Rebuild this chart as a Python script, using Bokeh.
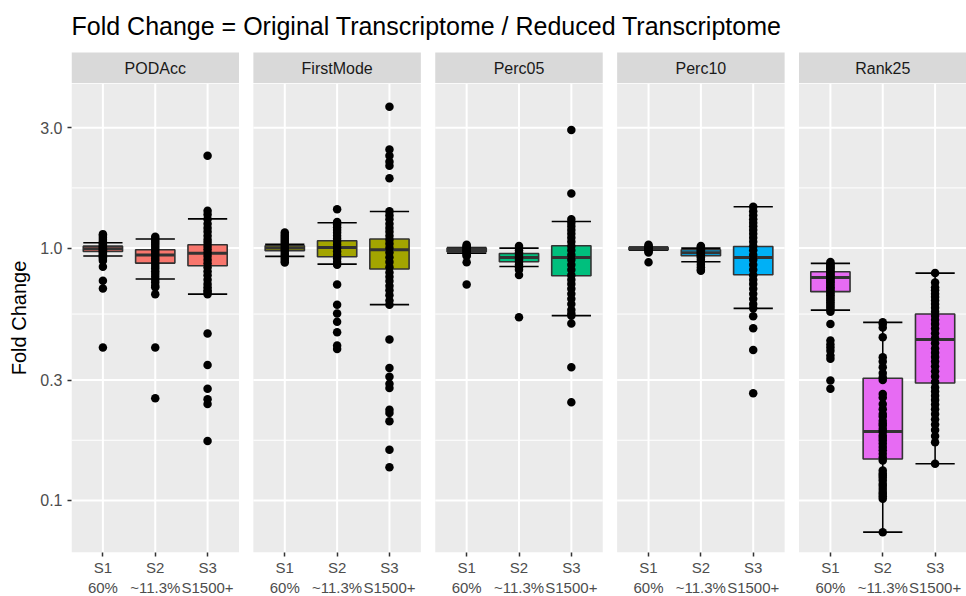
import numpy as np
from bokeh.plotting import figure
from bokeh.layouts import column
from bokeh.models import Range1d, FixedTicker, CustomJSTickFormatter
from bokeh.embed import file_html
from bokeh.resources import INLINE
from bokeh.core.properties import value

# ---------------- data ----------------
title = "Fold Change = Original Transcriptome / Reduced Transcriptome"
panels = ["PODAcc", "FirstMode", "Perc05", "Perc10", "Rank25"]
fills = ["#F8766D", "#A3A500", "#00BF7D", "#00B0F6", "#E76BF3"]
groups = ["S1\n60%", "S2\n~11.3%", "S3\nS1500+"]
y_ticks = [0.1, 0.3, 1.0, 3.0]

# box statistics, ordered panel by panel (S1, S2, S3)
box_lo  = [0.930, 0.754, 0.657,  0.927, 0.864, 0.597,  0.955, 0.846, 0.540,  0.982, 0.883, 0.577,  0.568, 0.0749, 0.1397]
box_q1  = [0.970, 0.872, 0.851,  0.976, 0.924, 0.826,  0.967, 0.883, 0.777,  0.985, 0.933, 0.784,  0.672, 0.146, 0.292]
box_med = [0.995, 0.938, 0.955,  1.000, 1.006, 0.985,  0.985, 0.918, 0.918,  0.997, 0.958, 0.918,  0.765, 0.1875, 0.434]
box_q3  = [1.018, 0.985, 1.031,  1.021, 1.069, 1.086,  1.000, 0.952, 1.021,  1.006, 0.985, 1.015,  0.806, 0.305, 0.548]
box_hi  = [1.050, 1.086, 1.306,  1.035, 1.260, 1.397,  1.006, 1.000, 1.275,  1.009, 1.000, 1.458,  0.870, 0.508, 0.796]

podacc_s1 = [1.136, 1.12, 1.10, 1.08, 1.06, 1.05, 1.04, 1.03, 1.02, 1.01, 1.0, 0.99, 0.98, 0.97, 0.96,
             0.95, 0.94, 0.93, 0.92, 0.905, 0.891, 0.844, 0.743, 0.692, 0.404]
podacc_s2 = [1.11, 1.09, 1.07, 1.05, 1.03, 1.01, 0.99, 0.97, 0.95, 0.93, 0.91, 0.89, 0.87, 0.85, 0.83,
             0.81, 0.79, 0.77, 0.75, 0.73, 0.71, 0.70, 0.657, 0.404, 0.254]
podacc_s3 = [2.32, 1.405, 1.36, 1.30, 1.25, 1.20, 1.16, 1.12, 1.08, 1.05, 1.02, 0.99, 0.96, 0.93, 0.90,
             0.87, 0.84, 0.81, 0.78, 0.75, 0.72, 0.70, 0.68, 0.67, 0.657, 0.459, 0.344, 0.277, 0.252,
             0.241, 0.172]
firstmode_s1 = [1.153, 1.13, 1.11, 1.09, 1.07, 1.05, 1.03, 1.01, 0.99, 0.97, 0.95, 0.93, 0.91, 0.89, 0.877]
firstmode_s2 = [1.427, 1.27, 1.24, 1.21, 1.18, 1.15, 1.12, 1.09, 1.06, 1.03, 1.0, 0.97, 0.94, 0.91, 0.88,
                0.86, 0.718, 0.597, 0.551, 0.511, 0.464, 0.411, 0.398]
firstmode_s3 = [3.63, 2.46, 2.32, 2.20, 2.12, 1.89, 1.40, 1.35, 1.30, 1.25, 1.20, 1.16, 1.12, 1.08, 1.04,
                1.0, 0.96, 0.92, 0.88, 0.84, 0.80, 0.77, 0.74, 0.71, 0.68, 0.65, 0.62, 0.597, 0.434,
                0.335, 0.309, 0.290, 0.279, 0.229, 0.222, 0.206, 0.159, 0.1355]
perc05_s1 = [1.03, 1.02, 1.01, 1.0, 0.99, 0.98, 0.97, 0.96, 0.95, 0.94, 0.93, 0.878, 0.718]
perc05_s2 = [1.02, 1.0, 0.98, 0.96, 0.94, 0.92, 0.90, 0.88, 0.86, 0.84, 0.82, 0.782, 0.532]
perc05_s3 = [2.94, 1.645, 1.30, 1.26, 1.22, 1.18, 1.14, 1.10, 1.06, 1.02, 0.98, 0.94, 0.90, 0.86, 0.82,
             0.78, 0.75, 0.72, 0.69, 0.66, 0.63, 0.60, 0.57, 0.55, 0.54, 0.503, 0.337, 0.245]
perc10_s1 = [1.03, 1.02, 1.01, 1.0, 0.99, 0.98, 0.97, 0.96, 0.878]
perc10_s2 = [1.02, 1.01, 1.0, 0.99, 0.98, 0.97, 0.96, 0.95, 0.94, 0.93, 0.92, 0.90, 0.88, 0.86, 0.84,
             0.82, 0.813]
perc10_s3 = [1.458, 1.40, 1.35, 1.30, 1.26, 1.22, 1.18, 1.14, 1.10, 1.06, 1.02, 0.98, 0.94, 0.90, 0.86,
             0.82, 0.78, 0.75, 0.72, 0.69, 0.66, 0.63, 0.60, 0.577, 0.537, 0.481, 0.395, 0.266]
rank25_s1 = [0.88, 0.87, 0.86, 0.85, 0.84, 0.83, 0.82, 0.81, 0.80, 0.79, 0.78, 0.77, 0.76, 0.75, 0.74,
             0.73, 0.72, 0.71, 0.70, 0.69, 0.68, 0.67, 0.66, 0.65, 0.64, 0.63, 0.62, 0.61, 0.60, 0.59,
             0.58, 0.57, 0.56, 0.500, 0.430, 0.415, 0.404, 0.392, 0.375, 0.364, 0.299, 0.277]
rank25_s2 = [0.508, 0.50, 0.485, 0.443, 0.369, 0.355, 0.337, 0.32, 0.308, 0.30, 0.264, 0.256,
             0.241, 0.23, 0.220, 0.215, 0.207, 0.202, 0.198, 0.192, 0.187, 0.181,
             0.177, 0.173, 0.168, 0.163, 0.158, 0.153, 0.148, 0.144, 0.1315, 0.128,
             0.1256, 0.123, 0.120, 0.1164, 0.114, 0.111, 0.108, 0.106, 0.104, 0.1016, 0.0749]
rank25_s3 = [0.796, 0.73, 0.70, 0.68, 0.66, 0.64, 0.62, 0.60, 0.58, 0.56, 0.54, 0.52, 0.50, 0.48,
             0.46, 0.44, 0.42, 0.40, 0.385, 0.37, 0.355, 0.34, 0.325, 0.31, 0.295, 0.28, 0.27, 0.26,
             0.25, 0.24, 0.23, 0.22, 0.21, 0.20, 0.19, 0.18, 0.17, 0.1397]

points = [
    [podacc_s1, podacc_s2, podacc_s3],
    [firstmode_s1, firstmode_s2, firstmode_s3],
    [perc05_s1, perc05_s2, perc05_s3],
    [perc10_s1, perc10_s2, perc10_s3],
    [rank25_s1, rank25_s2, rank25_s3],
]

# ---------------- layout constants ----------------
FONT = "Liberation Sans"
EXPAND = 0.6          # ggplot discrete expansion
PANEL_W = 2 + 2 * EXPAND
GAP = 0.275
STRIDE = PANEL_W + GAP
BOX_W = 0.75
Y_MIN, Y_MAX = 0.0622, 4.49
FRAME_W, FRAME_H = 895, 469
LEFT = 71

x_lo = 1 - EXPAND
x_hi = (len(panels) - 1) * STRIDE + 3 + EXPAND
xr = Range1d(x_lo, x_hi)

panel_left = [i * STRIDE + 1 - EXPAND for i in range(len(panels))]
panel_right = [l + PANEL_W for l in panel_left]
cat_x = [i * STRIDE + j + 1 for i in range(len(panels)) for j in range(len(groups))]
cat_lbl = [groups[j] for i in range(len(panels)) for j in range(len(groups))]

# ---------------- strip / title figure ----------------
STRIP_H = 31
TOP_H = 83
s = figure(frame_width=FRAME_W, frame_height=TOP_H, x_range=xr, y_range=Range1d(0, TOP_H),
           output_backend="svg", toolbar_location=None, x_axis_location=None,
           y_axis_location=None, min_border_left=LEFT, min_border_right=0, min_border_top=0,
           min_border_bottom=0, outline_line_color=None, background_fill_color="white",
           border_fill_color="white")
s.grid.visible = False
s.quad(left=panel_left, right=panel_right, bottom=0, top=STRIP_H, fill_color="#D9D9D9",
       line_color=None)
s.text(x=[(l + r) / 2 for l, r in zip(panel_left, panel_right)], y=[STRIP_H / 2] * len(panels),
       text=panels, text_font=value(FONT), text_font_size="16px", text_color="#1A1A1A",
       text_align="center", text_baseline="middle")
s.text(x=[x_lo], y=[TOP_H - 25], text=[title], text_font=value(FONT), text_font_size="25px",
       text_color="black", text_align="left", text_baseline="middle")

# ---------------- main figure ----------------
p = figure(frame_width=FRAME_W, frame_height=FRAME_H, x_range=xr, y_range=Range1d(Y_MIN, Y_MAX),
           y_axis_type="log", output_backend="svg", toolbar_location=None,
           min_border_left=LEFT, min_border_right=0, min_border_top=0, min_border_bottom=0,
           outline_line_color=None, background_fill_color="white", border_fill_color="white")
p.grid.visible = False

# panel backgrounds
p.quad(left=panel_left, right=panel_right, bottom=Y_MIN, top=Y_MAX, fill_color="#EBEBEB",
       line_color=None)

# grid lines
minor_vals = [float(np.sqrt(a * b)) for a, b in zip(y_ticks[:-1], y_ticks[1:])]
gx0, gx1, gy = [], [], []
for l, r in zip(panel_left, panel_right):
    for v in y_ticks:
        gx0.append(l); gx1.append(r); gy.append(v)
p.segment(x0=gx0, x1=gx1, y0=gy, y1=gy, line_color="white", line_width=2)
mx0, mx1, my = [], [], []
for l, r in zip(panel_left, panel_right):
    for v in minor_vals:
        mx0.append(l); mx1.append(r); my.append(v)
p.segment(x0=mx0, x1=mx1, y0=my, y1=my, line_color="white", line_width=1)
p.segment(x0=cat_x, x1=cat_x, y0=[Y_MIN] * len(cat_x), y1=[Y_MAX] * len(cat_x),
          line_color="white", line_width=2)

# whiskers (errorbar)
p.segment(x0=cat_x, x1=cat_x, y0=box_lo, y1=box_hi, line_color="black", line_width=1.6)
p.segment(x0=[x - BOX_W / 2 for x in cat_x], x1=[x + BOX_W / 2 for x in cat_x], y0=box_lo,
          y1=box_lo, line_color="black", line_width=1.6)
p.segment(x0=[x - BOX_W / 2 for x in cat_x], x1=[x + BOX_W / 2 for x in cat_x], y0=box_hi,
          y1=box_hi, line_color="black", line_width=1.6)

# boxes
box_fill = [fills[i] for i in range(len(panels)) for j in range(len(groups))]
p.quad(left=[x - BOX_W / 2 for x in cat_x], right=[x + BOX_W / 2 for x in cat_x], bottom=box_q1,
       top=box_q3, fill_color=box_fill, line_color="#333333", line_width=1.6)
p.segment(x0=[x - BOX_W / 2 for x in cat_x], x1=[x + BOX_W / 2 for x in cat_x], y0=box_med,
          y1=box_med, line_color="#333333", line_width=3)

# points
px, py = [], []
for i in range(len(panels)):
    for j in range(len(groups)):
        for v in points[i][j]:
            px.append(i * STRIDE + j + 1)
            py.append(v)
p.scatter(x=px, y=py, size=8.5, fill_color="black", line_color=None)

# axes
p.xaxis.ticker = FixedTicker(ticks=cat_x, minor_ticks=[])
p.xaxis.formatter = CustomJSTickFormatter(args=dict(xt=cat_x, xl=cat_lbl), code="""
let best = 0;
for (let i = 0; i < xt.length; i++) {
  if (Math.abs(xt[i] - tick) < Math.abs(xt[best] - tick)) best = i;
}
return xl[best];
""")
p.yaxis.ticker = FixedTicker(ticks=y_ticks, minor_ticks=[])
p.yaxis.formatter = CustomJSTickFormatter(code="return tick.toFixed(1);")
for ax in (p.xaxis[0], p.yaxis[0]):
    ax.axis_line_color = None
    ax.major_tick_line_color = "#333333"
    ax.major_tick_line_width = 1.5
    ax.major_tick_out = 4
    ax.major_tick_in = 0
    ax.minor_tick_line_color = None
    ax.major_label_text_font = FONT
    ax.major_label_text_color = "#4D4D4D"
p.yaxis.major_label_text_font_size = "16px"
p.yaxis.major_label_standoff = 5
p.xaxis.major_label_text_font_size = "15px"
p.xaxis.major_label_standoff = 2
p.yaxis.axis_label = "Fold Change"
p.yaxis.axis_label_text_font = FONT
p.yaxis.axis_label_text_font_size = "20px"
p.yaxis.axis_label_text_font_style = "normal"
p.yaxis.axis_label_text_color = "black"
p.yaxis.axis_label_standoff = 7

layout = column(s, p, spacing=0)
open("out.html", "w").write(file_html(layout, INLINE))
